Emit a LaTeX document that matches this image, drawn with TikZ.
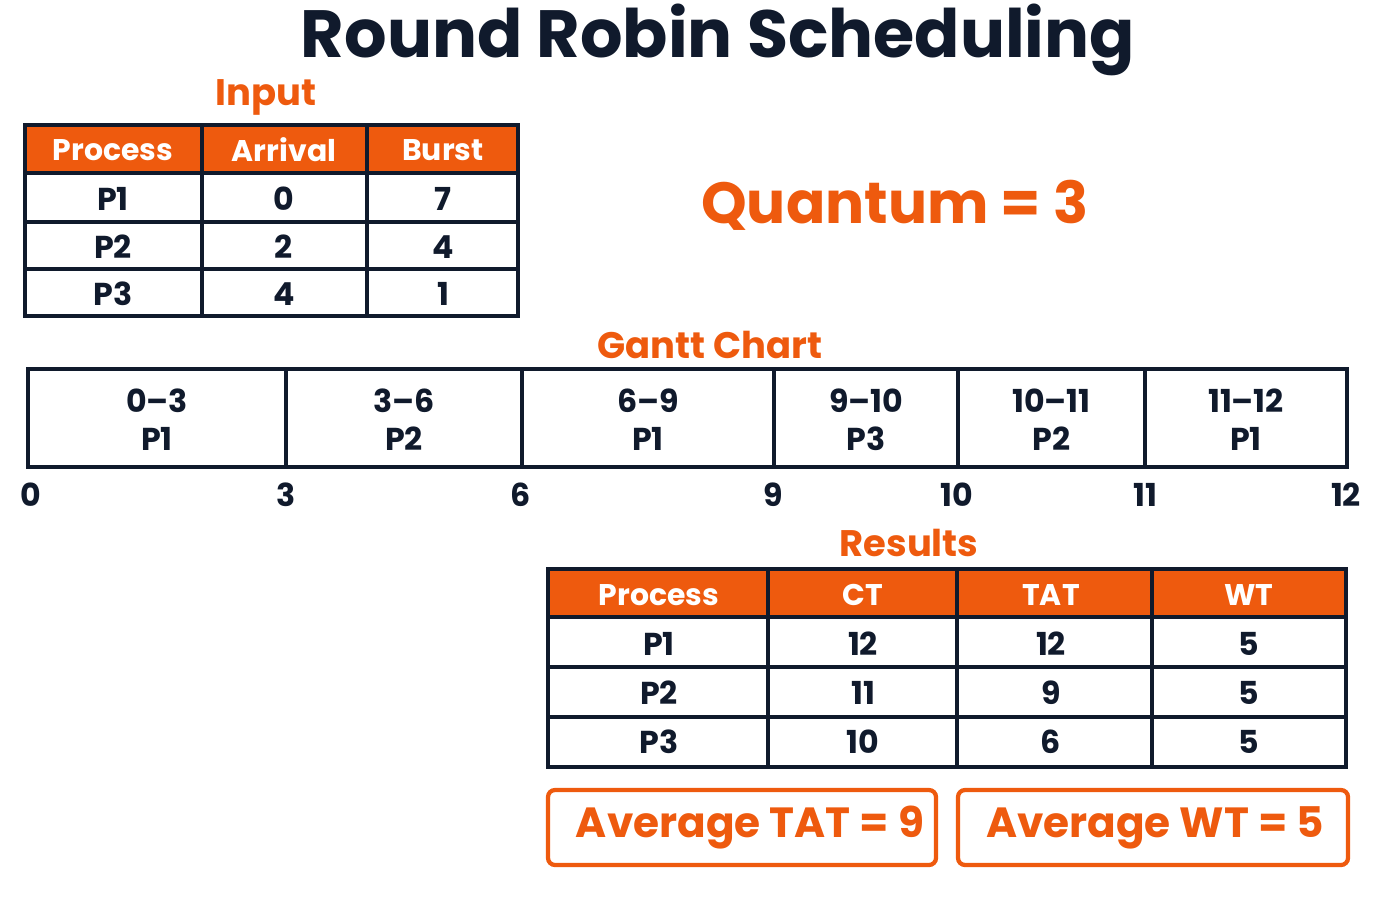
\documentclass[tikz,border=0pt]{standalone}
\usepackage{fontspec}
\setmainfont{Poppins}
\usetikzlibrary{positioning,calc}
\definecolor{rrorange}{HTML}{EE5A0E}
\definecolor{rrnavy}{HTML}{101A2C}
\tikzset{
  grid/.style={draw=rrnavy, line width=1.2pt},
  head/.style={fill=rrorange, draw=rrnavy, line width=1.2pt},
  cell/.style={font=\fontsize{9}{11}\selectfont\bfseries, text=rrnavy},
  hcell/.style={font=\fontsize{8.5}{10}\selectfont\bfseries, text=white},
  label/.style={font=\fontsize{10.5}{13}\selectfont\bfseries, text=rrorange},
  avgbox/.style={draw=rrorange, line width=1.2pt, rounded corners=2pt}
}
\begin{document}
\begin{tikzpicture}[x=0.01cm,y=-0.01cm]
\useasboundingbox (0,0) rectangle (1400,900);
% title
\node[font=\fontsize{19}{22}\selectfont\bfseries, text=rrnavy] (title) at (718,40) {Round Robin Scheduling};
% input table
\node[label] (input) at (266,97) {Input};
\fill[head] (25,125) rectangle (518,173);
\draw[grid] (25,125) rectangle (518,316);
\foreach \y in {173,222,269} \draw[grid] (25,\y) -- (518,\y);
\foreach \x in {202,367} \draw[grid] (\x,125) -- (\x,316);
\foreach \t [count=\i] in {Process,Arrival,Burst}
  \node[hcell] (ih\i) at ({\i==1 ? 113 : (\i==2 ? 284 : 443)},150) {\t};
\foreach \p/\a/\b/\y [count=\i] in {P1/0/7/199,P2/2/4/247,P3/4/1/294}{
  \node[cell] (ip\i) at (113,\y) {\p};
  \node[cell] (ia\i) at (284,\y) {\a};
  \node[cell] (ib\i) at (443,\y) {\b};
}
\node[font=\fontsize{16.5}{20}\selectfont\bfseries, text=rrorange] (quantum) at (895,205) {Quantum = 3};
% gantt chart
\node[label] (gantt) at (710,345) {Gantt Chart};
\draw[grid] (28,369) rectangle (1347,467);
\foreach \x in {286,522,774,958,1145} \draw[grid] (\x,369) -- (\x,467);
\foreach \l/\r/\t/\p [count=\i] in {28/286/0--3/P1,286/522/3--6/P2,522/774/6--9/P1,774/958/9--10/P3,958/1145/10--11/P2,1145/1347/11--12/P1}{
  \node[cell] (gt\i) at ({(\l+\r)/2},401) {\t};
  \node[cell] (gp\i) at ({(\l+\r)/2},439) {\p};
}
\foreach \x/\t in {31/0,286/3,521/6,773/9,957/10,1145/11,1346/12}
  \node[cell] (tick\t) at (\x,495) {\t};
% results table
\node[label] (results) at (909,543) {Results};
\fill[head] (548,569) rectangle (1346,617);
\draw[grid] (548,569) rectangle (1346,767);
\foreach \y in {617,667,717} \draw[grid] (548,\y) -- (1346,\y);
\foreach \x in {768,957,1152} \draw[grid] (\x,569) -- (\x,767);
\foreach \t/\x [count=\i] in {Process/659,CT/863,TAT/1051,WT/1249}
  \node[hcell] (rh\i) at (\x,595) {\t};
\foreach \p/\c/\ta/\w/\y [count=\i] in {P1/12/12/5/644,P2/11/9/5/693,P3/10/6/5/742}{
  \node[cell] (rp\i) at (659,\y) {\p};
  \node[cell] (rc\i) at (863,\y) {\c};
  \node[cell] (rt\i) at (1051,\y) {\ta};
  \node[cell] (rw\i) at (1249,\y) {\w};
}
% averages
\draw[avgbox] (548,790) rectangle (936,865);
\draw[avgbox] (958,790) rectangle (1348,865);
\node[font=\fontsize{12}{14}\selectfont\bfseries, text=rrorange] (avgtat) at (750,828) {Average TAT = 9};
\node[font=\fontsize{12}{14}\selectfont\bfseries, text=rrorange] (avgwt) at (1155,828) {Average WT = 5};
\end{tikzpicture}
\end{document}
